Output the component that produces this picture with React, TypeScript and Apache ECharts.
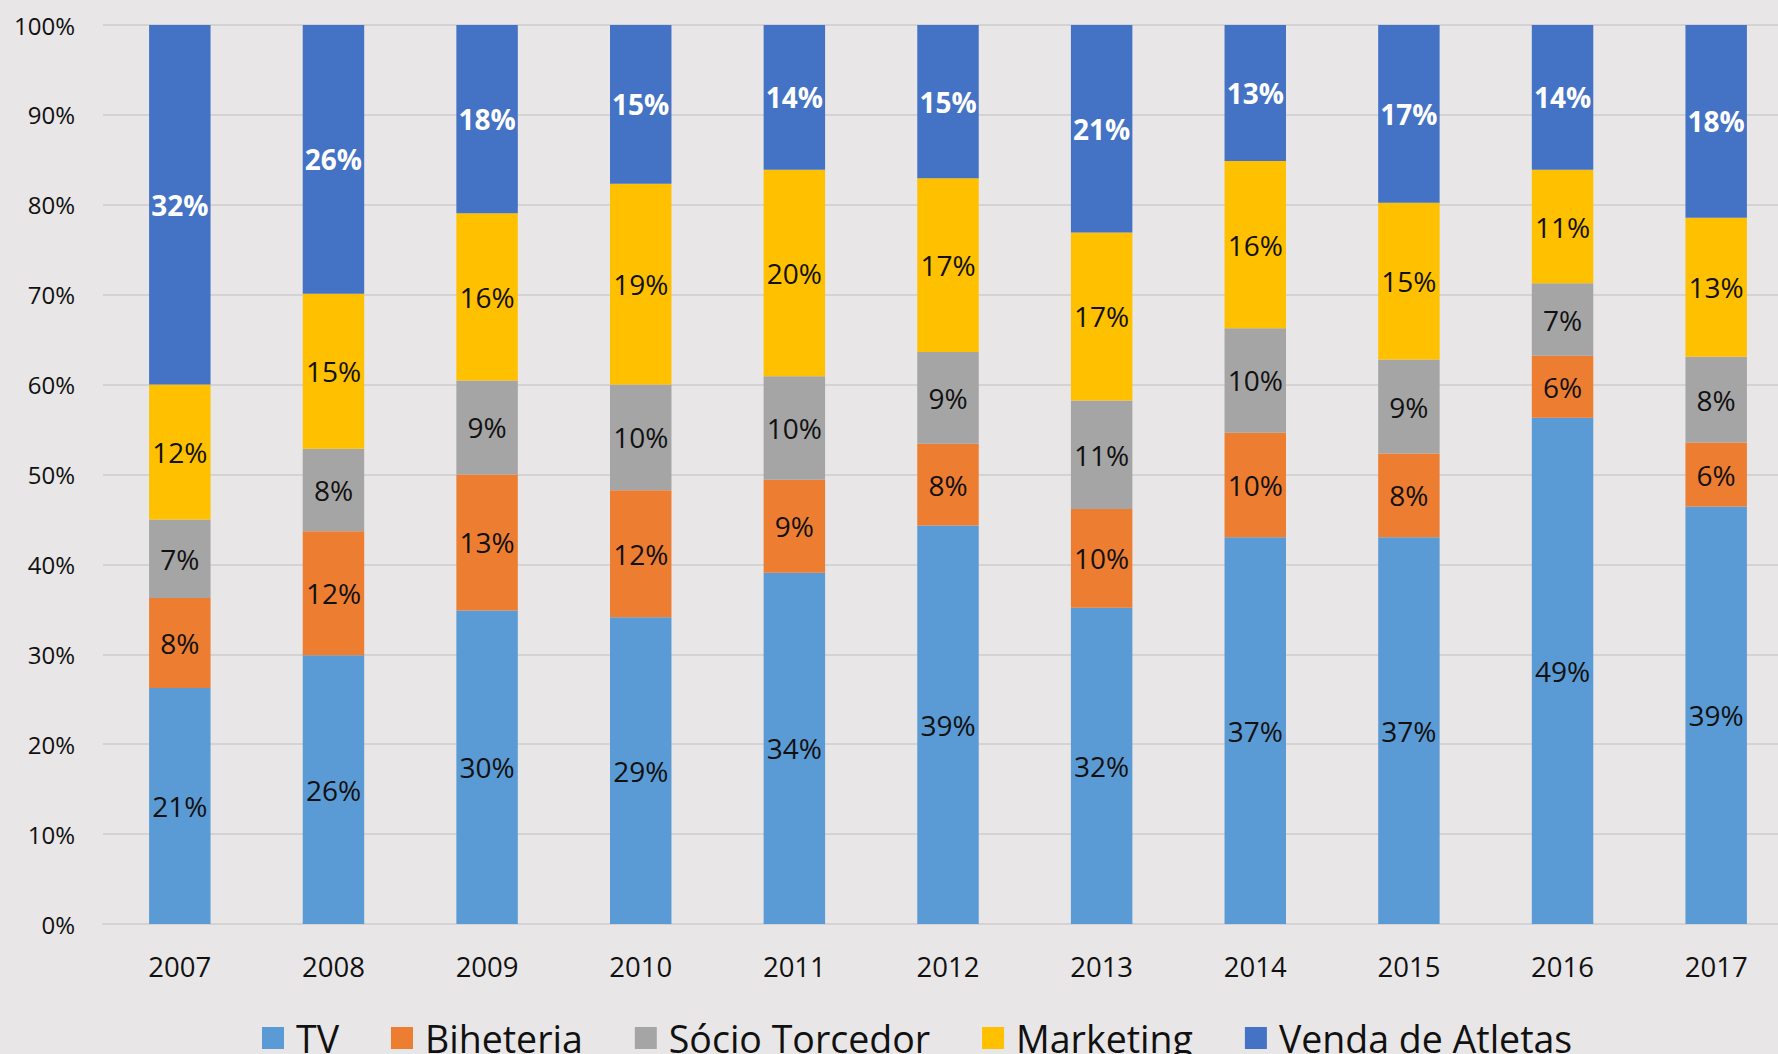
import React, { useEffect, useRef } from "react";
import * as echarts from "echarts";

const years = ["2007", "2008", "2009", "2010", "2011", "2012", "2013", "2014", "2015", "2016", "2017"];
const seriesNames = ["TV", "Biheteria", "Sócio Torcedor", "Marketing", "Venda de Atletas"];
const tv = [21, 26, 30, 29, 34, 39, 32, 37, 37, 49, 39];
const biheteria = [8, 12, 13, 12, 9, 8, 10, 10, 8, 6, 6];
const socio = [7, 8, 9, 10, 10, 9, 11, 10, 9, 7, 8];
const marketing = [12, 15, 16, 19, 20, 17, 17, 16, 15, 11, 13];
const venda = [32, 26, 18, 15, 14, 15, 21, 13, 17, 14, 18];
const yTicks = [0, 10, 20, 30, 40, 50, 60, 70, 80, 90, 100];
const colors = ["#5B9BD5", "#ED7D31", "#A5A5A5", "#FFC000", "#4472C4"];

const FONT = "'Open Sans', sans-serif";

export default function App() {
  const ref = useRef<HTMLDivElement>(null);
  useEffect(() => {
    if (!ref.current) return;
    const chart = echarts.init(ref.current, null, { renderer: "svg" });
    const raw = [tv, biheteria, socio, marketing, venda];
    const totals = years.map((_, i) => raw.reduce((s, arr) => s + arr[i], 0));
    const series = raw.map((arr, k) => ({
      name: seriesNames[k],
      type: "bar",
      stack: "total",
      barWidth: "40%",
      itemStyle: { color: colors[k] },
      data: arr.map((v, i) => ({ value: (v / totals[i]) * 100 })),
      label: {
        show: true,
        position: "inside",
        fontFamily: FONT,
        fontSize: 28,
        color: k === 4 ? "#FFFFFF" : "#111111",
        fontWeight: k === 4 ? "bold" : "normal",
        formatter: (p: any) => `${arr[p.dataIndex]}%`,
      },
    }));
    chart.setOption({
      animation: false,
      backgroundColor: "#E8E6E6",
      grid: { left: 103, right: 0, top: 25, bottom: 130, containLabel: false },
      xAxis: {
        type: "category",
        data: years,
        axisLine: { show: true, lineStyle: { color: "#D4D2D2", width: 2 } },
        axisTick: { show: false },
        axisLabel: { fontFamily: FONT, fontSize: 27.5, color: "#111", margin: 28 },
      },
      yAxis: {
        type: "value",
        min: 0,
        max: 100,
        interval: 10,
        axisLine: { show: false },
        axisTick: { show: false },
        splitLine: { lineStyle: { color: "#D4D2D2", width: 2 } },
        axisLabel: {
          fontFamily: FONT,
          fontSize: 24,
          color: "#111",
          margin: 28,
          formatter: (v: number) => (yTicks.includes(v) ? `${v}%` : ""),
        },
      },
      legend: {
        data: seriesNames,
        left: 257,
        top: 1014,
        itemWidth: 22,
        itemHeight: 22,
        itemGap: 52,
        icon: "rect",
        textStyle: { fontFamily: FONT, fontSize: 37.5, color: "#111", padding: [0, 0, 0, 7] },
      },
      series,
    });
    return () => chart.dispose();
  }, []);
  return (
    <div style={{ position: "fixed", left: 0, top: 0, width: 1778, height: 1054, overflow: "hidden" }}>
      <div ref={ref} style={{ position: "absolute", left: 0, top: 0, width: 1793, height: 1054 }} />
    </div>
  );
}
